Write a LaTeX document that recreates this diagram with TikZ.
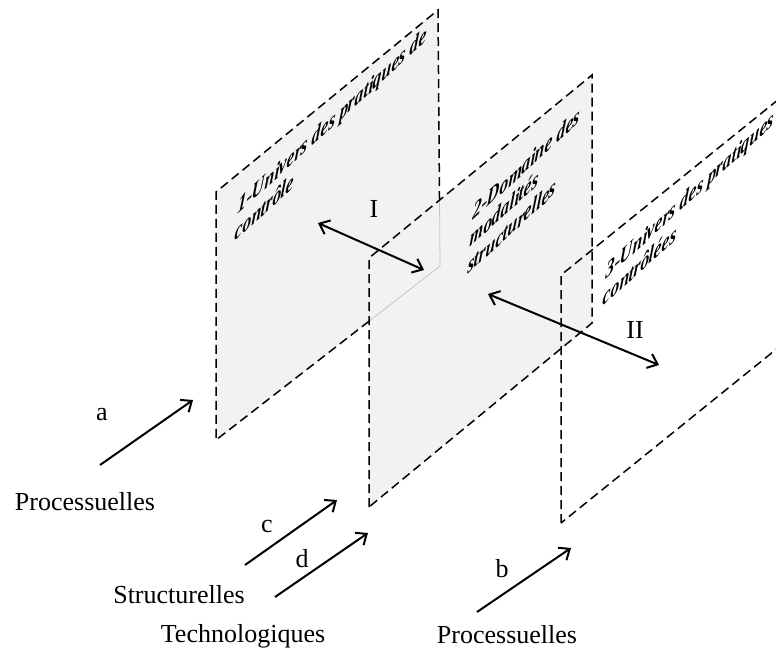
\documentclass[tikz,border=0pt]{standalone}
\usepackage{fontspec}
\setmainfont{Liberation Serif}
\usetikzlibrary{arrows.meta}

\definecolor{planefill}{RGB}{242,242,242}
\definecolor{hiddenedge}{RGB}{196,196,196}

\begin{document}
\begin{tikzpicture}[x=0.5pt,y=-0.5pt,
  planeedge/.style={line width=0.75pt, dash pattern=on 4.5pt off 2.5pt},
  flow/.style={line width=1pt, -{Straight Barb[length=4.5pt,width=7.5pt]}},
  link/.style={line width=1pt, {Straight Barb[length=4.5pt,width=7.5pt]}-{Straight Barb[length=4.5pt,width=7.5pt]}},
  label/.style={font=\fontsize{13}{15}\selectfont, anchor=base, inner sep=0pt},
  planetext/.style={font=\fontsize{12}{13.5}\selectfont\bfseries\itshape, align=left,
    anchor=north west, inner sep=0pt, cm={0.72,0.66,0.1,1,(0,0)}}]
  \useasboundingbox (0,0) rectangle (776,648);

  % --------------------
  % Planes
  % --------------------
  \coordinate (p1bl) at (216,440);
  \coordinate (p1tl) at (216,192);
  \coordinate (p1tr) at (438,10);
  \coordinate (p1br) at (440,266);

  \coordinate (p2bl) at (369,507);
  \coordinate (p2tl) at (369,258);
  \coordinate (p2tr) at (592,75);
  \coordinate (p2br) at (592,323);

  \coordinate (p3bl) at (561,523);
  \coordinate (p3tl) at (561,275);
  \coordinate (p3tr) at (784,95);
  \coordinate (p3br) at (784,343);

  % where plane 2 hides plane 1
  \coordinate (h1) at (intersection of p1bl--p1br and p2bl--p2tl);
  \coordinate (h2) at (intersection of p1tr--p1br and p2tl--p2tr);

  \fill[planefill] (p1bl) -- (p1tl) -- (p1tr) -- (p1br) -- cycle;
  \fill[planefill] (p2bl) -- (p2tl) -- (p2tr) -- (p2br) -- cycle;
  \draw[hiddenedge, line width=0.4pt] (h1) -- (p1br) -- (h2);

  \draw[planeedge] (h2) -- (p1tr) -- (p1tl) -- (p1bl) -- (h1);
  \draw[planeedge] (p2bl) -- (p2tl) -- (p2tr) -- (p2br) -- cycle;
  \draw[planeedge] (p3bl) -- (p3tl) -- (p3tr) -- (p3br) -- cycle;

  \node[planetext] (univ1) at (239,198) {1-Univers des pratiques de\\contrôle};
  \node[planetext] (dom2)  at (474,204) {2-Domaine des\\modalités\\structurelles};
  \node[planetext] (univ3) at (607,263) {3-Univers des pratiques\\contrôlées};

  % --------------------
  % Relations I and II
  % --------------------
  \coordinate (I-a) at (318,223);
  \coordinate (I-b) at (424,270);
  \draw[link] (I-a) -- (I-b);
  \node[label] (relI) at (374,217) {I};

  \coordinate (II-a) at (488,294);
  \coordinate (II-b) at (659,365);
  \draw[link] (II-a) -- (II-b);
  \node[label] (relII) at (635,338) {II};

  % --------------------
  % Incoming flows
  % --------------------
  \coordinate (a-tail) at (100,465);
  \coordinate (a-head) at (193,400);
  \draw[flow] (a-tail) -- (a-head);
  \node[label] (lbla) at (102,420) {a};
  \node[label] (procA) at (85,510) {Processuelles};

  \coordinate (c-tail) at (245,565);
  \coordinate (c-head) at (337,500);
  \draw[flow] (c-tail) -- (c-head);
  \node[label] (lblc) at (267,532) {c};
  \node[label] (struct) at (179,603) {Structurelles};

  \coordinate (d-tail) at (275,597);
  \coordinate (d-head) at (368,533);
  \draw[flow] (d-tail) -- (d-head);
  \node[label] (lbld) at (302,567) {d};
  \node[label] (techno) at (243,642) {Technologiques};

  \coordinate (b-tail) at (477,612);
  \coordinate (b-head) at (571,548);
  \draw[flow] (b-tail) -- (b-head);
  \node[label] (lblb) at (502,577) {b};
  \node[label] (procB) at (507,643) {Processuelles};
\end{tikzpicture}
\end{document}
